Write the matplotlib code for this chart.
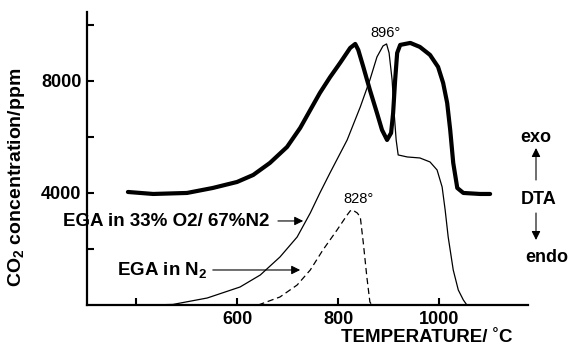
import matplotlib
matplotlib.use("Agg")
import matplotlib.pyplot as plt
from matplotlib.patches import FancyArrowPatch

plt.rcParams["font.family"] = ["Liberation Sans", "DejaVu Sans"]
plt.rcParams["font.weight"] = "bold"
plt.rcParams["mathtext.fontset"] = "custom"
plt.rcParams["mathtext.rm"] = "Liberation Sans:bold"
plt.rcParams["mathtext.it"] = "Liberation Sans:bold"
plt.rcParams["mathtext.bf"] = "Liberation Sans:bold"
plt.rcParams["mathtext.default"] = "rm"

# DTA trace (plotted on the CO2 scale, arbitrary units)
dta_T = [384, 434, 501, 552, 600, 632, 665, 699, 725, 745, 764, 784, 804, 824,
         834, 840, 850, 863, 877, 887, 897, 905, 909, 913, 917, 923, 943, 962,
         982, 998, 1008, 1016, 1022, 1028, 1036, 1048, 1081, 1101]
dta_v = [4035, 3964, 4000, 4178, 4392, 4642, 5071, 5642, 6321, 6963, 7571,
         8130, 8642, 9177, 9320, 9106, 8500, 7678, 6856, 6249, 5892, 6142,
         6856, 8035, 8999, 9285, 9356, 9213, 8928, 8499, 7928, 7213, 6249,
         5071, 4178, 4000, 3964, 3964]

# Evolved CO2 in 33% O2 / 67% N2
o2_T = [428, 473, 541, 606, 646, 685, 719, 745, 764, 784, 818, 844, 863,
        877, 889, 896, 901, 907, 911, 915, 919, 937, 962, 982, 996, 1006,
        1012, 1018, 1028, 1038, 1048, 1055]
o2_v = [0, 20, 250, 643, 1071, 1714, 2428, 3285, 4000, 4714, 5892,
        7071, 8035, 8856, 9249, 9320, 9000, 8035, 6856, 5892, 5357, 5285,
        5249, 5107, 4821, 4214, 3392, 2428, 1250, 536, 179, 0]

# Evolved CO2 in N2
n2_T = [642, 685, 719, 745, 770, 798, 818, 824, 828, 838, 844, 850, 857, 863,
        867]
n2_v = [0, 286, 714, 1250, 1964, 2678, 3214, 3357, 3400, 3285, 3142, 2214,
        1000, 107, 0]

x_ticks = [400, 600, 800, 1000]
x_ticklabels = ["", "600", "800", "1000"]
y_ticks = [2000, 4000, 6000, 8000, 10000]
y_ticklabels = ["", "4000", "", "8000", ""]

fig = plt.figure(figsize=(5.71, 3.5), dpi=100)
ax = fig.add_axes([87 / 571, 45 / 350, 441 / 571, 293 / 350])

ax.plot(dta_T, dta_v, color="black", lw=3.0, solid_joinstyle="round",
        solid_capstyle="round")
ax.plot(o2_T, o2_v, color="black", lw=0.9, solid_joinstyle="round")
ax.plot(n2_T, n2_v, color="black", lw=0.9, ls=(0, (5, 3)))

ax.set_xlim(303, 1176)
ax.set_ylim(0, 10460)
for side in ("top", "right"):
    ax.spines[side].set_visible(False)
for side in ("left", "bottom"):
    ax.spines[side].set_linewidth(1.6)

ax.set_xticks(x_ticks)
ax.set_xticklabels(x_ticklabels)
ax.set_yticks(y_ticks)
ax.set_yticklabels(y_ticklabels)
ax.tick_params(direction="in", length=5, width=1.5, labelsize=13, pad=4)

# peak labels
ax.text(893, 9700, "896°", ha="center", va="center", fontsize=10.5,
        fontweight="normal")
ax.text(840, 3780, "828°", ha="center", va="center", fontsize=10.5,
        fontweight="normal")

# curve labels with arrows
arrow = dict(arrowstyle="-|>", color="black", lw=0.8, mutation_scale=13,
             shrinkA=0, shrinkB=0)
ax.text(665, 2990, "EGA in 33% O2/ 67%N2", ha="right", va="center",
        fontsize=13.5, clip_on=False)
ax.annotate("", xy=(731, 3000), xytext=(681, 3000), arrowprops=arrow)
ax.text(541, 1250, "EGA in N$_2$", ha="right", va="center", fontsize=13.5,
        clip_on=False)
ax.annotate("", xy=(725, 1250), xytext=(552, 1250), arrowprops=arrow)

# DTA direction key
fig.text(536 / 571, 1 - 137 / 350, "exo", ha="center", va="center",
         fontsize=13)
fig.text(539 / 571, 1 - 200 / 350, "DTA", ha="center", va="center",
         fontsize=13)
fig.text(547 / 571, 1 - 258 / 350, "endo", ha="center", va="center",
         fontsize=13)
fig.add_artist(FancyArrowPatch(
    (536 / 571, 1 - 180 / 350), (536 / 571, 1 - 148 / 350),
    transform=fig.transFigure, arrowstyle="-|>", color="black", lw=0.8,
    mutation_scale=13, shrinkA=0, shrinkB=0))
fig.add_artist(FancyArrowPatch(
    (536 / 571, 1 - 213 / 350), (536 / 571, 1 - 240 / 350),
    transform=fig.transFigure, arrowstyle="-|>", color="black", lw=0.8,
    mutation_scale=13, shrinkA=0, shrinkB=0))

fig.text(427 / 571, 1 - 337 / 350, "TEMPERATURE/ ˚C", ha="center",
         va="center", fontsize=13.5)
fig.text(17 / 571, 1 - 177 / 350, "CO$_2$ concentration/ppm", ha="center",
         va="center", rotation=90, fontsize=14)

fig.savefig("out.png", dpi=100)
